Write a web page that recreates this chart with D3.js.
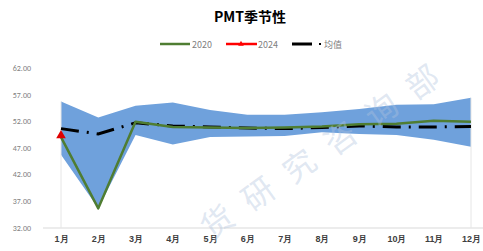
<!DOCTYPE html>
<html>
<head>
<meta charset="utf-8">
<script src="https://cdn.jsdelivr.net/npm/d3@7"></script>
<style>
  body { margin: 0; background: #fff; }
  svg { display: block; font-family: "Noto Sans CJK SC", "DejaVu Sans", sans-serif; }
</style>
</head>
<body>
<svg id="chart" width="483" height="251"></svg>
<script>
const months = ['1月', '2月', '3月', '4月', '5月', '6月', '7月', '8月', '9月', '10月', '11月', '12月'];
const bandUpper = [55.7, 52.7, 54.9, 55.5, 54.1, 53.2, 53.2, 53.7, 54.3, 55.1, 55.2, 56.4];
const bandLower = [45.7, 35.6, 49.4, 47.6, 49.0, 49.1, 49.2, 49.9, 49.6, 49.4, 48.5, 47.2];
const avgValues = [50.6, 49.6, 51.7, 51.1, 50.9, 50.7, 50.6, 50.8, 51.1, 50.9, 50.9, 51.0];
const values2020 = [49.0, 35.6, 51.9, 50.9, 50.8, 50.7, 50.8, 51.0, 51.4, 51.5, 52.1, 51.9];
const values2024 = [49.1];
const yTicks = [32, 37, 42, 47, 52, 57, 62];
const watermark = ['货', '研', '究', '咨', '询', '部'];

const svg = d3.select('#chart');

const x = d3.scalePoint().domain(months).range([61, 471]);
const y = d3.scaleLinear().domain([32, 62]).range([227.5, 68]);

// title
svg.append('text')
    .attr('x', 250).attr('y', 22)
    .attr('text-anchor', 'middle')
    .attr('font-size', 14).attr('font-weight', 'bold')
    .attr('fill', '#000')
    .text('PMT季节性');

// legend
const legend = svg.append('g').attr('font-size', 9).attr('fill', '#808080');
legend.append('line').attr('x1', 160).attr('x2', 190).attr('y1', 44).attr('y2', 44)
    .attr('stroke', '#4f7d32').attr('stroke-width', 2.5);
legend.append('text').attr('x', 192).attr('y', 47.5).text('2020');
legend.append('line').attr('x1', 226).attr('x2', 257).attr('y1', 44).attr('y2', 44)
    .attr('stroke', '#ff0000').attr('stroke-width', 2.5);
legend.append('path').attr('d', d3.symbol(d3.symbolTriangle, 14)()).attr('transform', 'translate(241,44)')
    .attr('fill', '#ff0000');
legend.append('text').attr('x', 258).attr('y', 47.5).text('2024');
legend.append('line').attr('x1', 292).attr('x2', 312).attr('y1', 44).attr('y2', 44)
    .attr('stroke', '#000').attr('stroke-width', 3);
legend.append('rect').attr('x', 319).attr('y', 43).attr('width', 2).attr('height', 2).attr('fill', '#000');
legend.append('text').attr('x', 324).attr('y', 47.5).text('均值');

// y axis labels
const yAxis = svg.append('g')
    .attr('transform', 'translate(31,0)')
    .call(d3.axisLeft(y).tickValues(yTicks).tickFormat(d3.format('.2f')).tickSize(0).tickPadding(0));
yAxis.select('.domain').remove();
yAxis.selectAll('text').attr('fill', '#808080').attr('font-size', 8).attr('font-family', 'Calibri, Carlito, "Liberation Sans", sans-serif');

// band between min and max
const band = d3.area()
    .x((d, i) => x(months[i]))
    .y0((d, i) => y(bandLower[i]))
    .y1(d => y(d));
svg.append('path')
    .datum(bandUpper)
    .attr('d', band)
    .attr('fill', '#6fa1dc');

// faint edge lines at first and last month
[0, months.length - 1].forEach(i => {
    svg.append('line')
        .attr('x1', x(months[i])).attr('x2', x(months[i]))
        .attr('y1', y(bandUpper[i])).attr('y2', y(32))
        .attr('stroke', '#e6e6e6').attr('stroke-width', 1);
});

// x axis
const xAxis = svg.append('g')
    .attr('transform', `translate(0,${y(32)})`)
    .call(d3.axisBottom(x).tickSize(0).tickPadding(8));
xAxis.select('.domain').remove();
xAxis.append('line').attr('x1', 43).attr('x2', 483).attr('y1', 0.5).attr('y2', 0.5)
    .attr('stroke', '#d9d9d9').attr('stroke-width', 1);
xAxis.selectAll('text').attr('fill', '#404040').attr('font-size', 9).attr('font-weight', 'bold');

const line = d3.line().x((d, i) => x(months[i])).y(d => y(d));

// average (dash-dot)
svg.append('path')
    .datum(avgValues)
    .attr('d', line)
    .attr('fill', 'none')
    .attr('stroke', '#000')
    .attr('stroke-width', 3)
    .attr('stroke-dasharray', '18,8,2,8');

// 2020
svg.append('path')
    .datum(values2020)
    .attr('d', line)
    .attr('fill', 'none')
    .attr('stroke', '#4f7d32')
    .attr('stroke-width', 2.5)
    .attr('stroke-linejoin', 'round');

// 2024
svg.append('path')
    .datum(values2024)
    .attr('d', line)
    .attr('fill', 'none')
    .attr('stroke', '#ff0000')
    .attr('stroke-width', 2.5);
svg.selectAll('.pt2024')
    .data(values2024)
    .enter()
    .append('path')
    .attr('class', 'pt2024')
    .attr('d', d3.symbol(d3.symbolTriangle, 40)())
    .attr('transform', (d, i) => `translate(${x(months[i])},${y(d) - 1})`)
    .attr('fill', '#e00000');

// watermark
const wm = svg.append('g').attr('font-size', 32).attr('fill', 'rgba(175,195,222,0.4)');
watermark.forEach((ch, i) => {
    const cx = 216 + i * 41;
    const cy = 220 - i * 28;
    wm.append('text')
        .attr('transform', `translate(${cx},${cy}) rotate(-36)`)
        .attr('text-anchor', 'middle')
        .attr('dominant-baseline', 'central')
        .text(ch);
});
</script>
</body>
</html>
